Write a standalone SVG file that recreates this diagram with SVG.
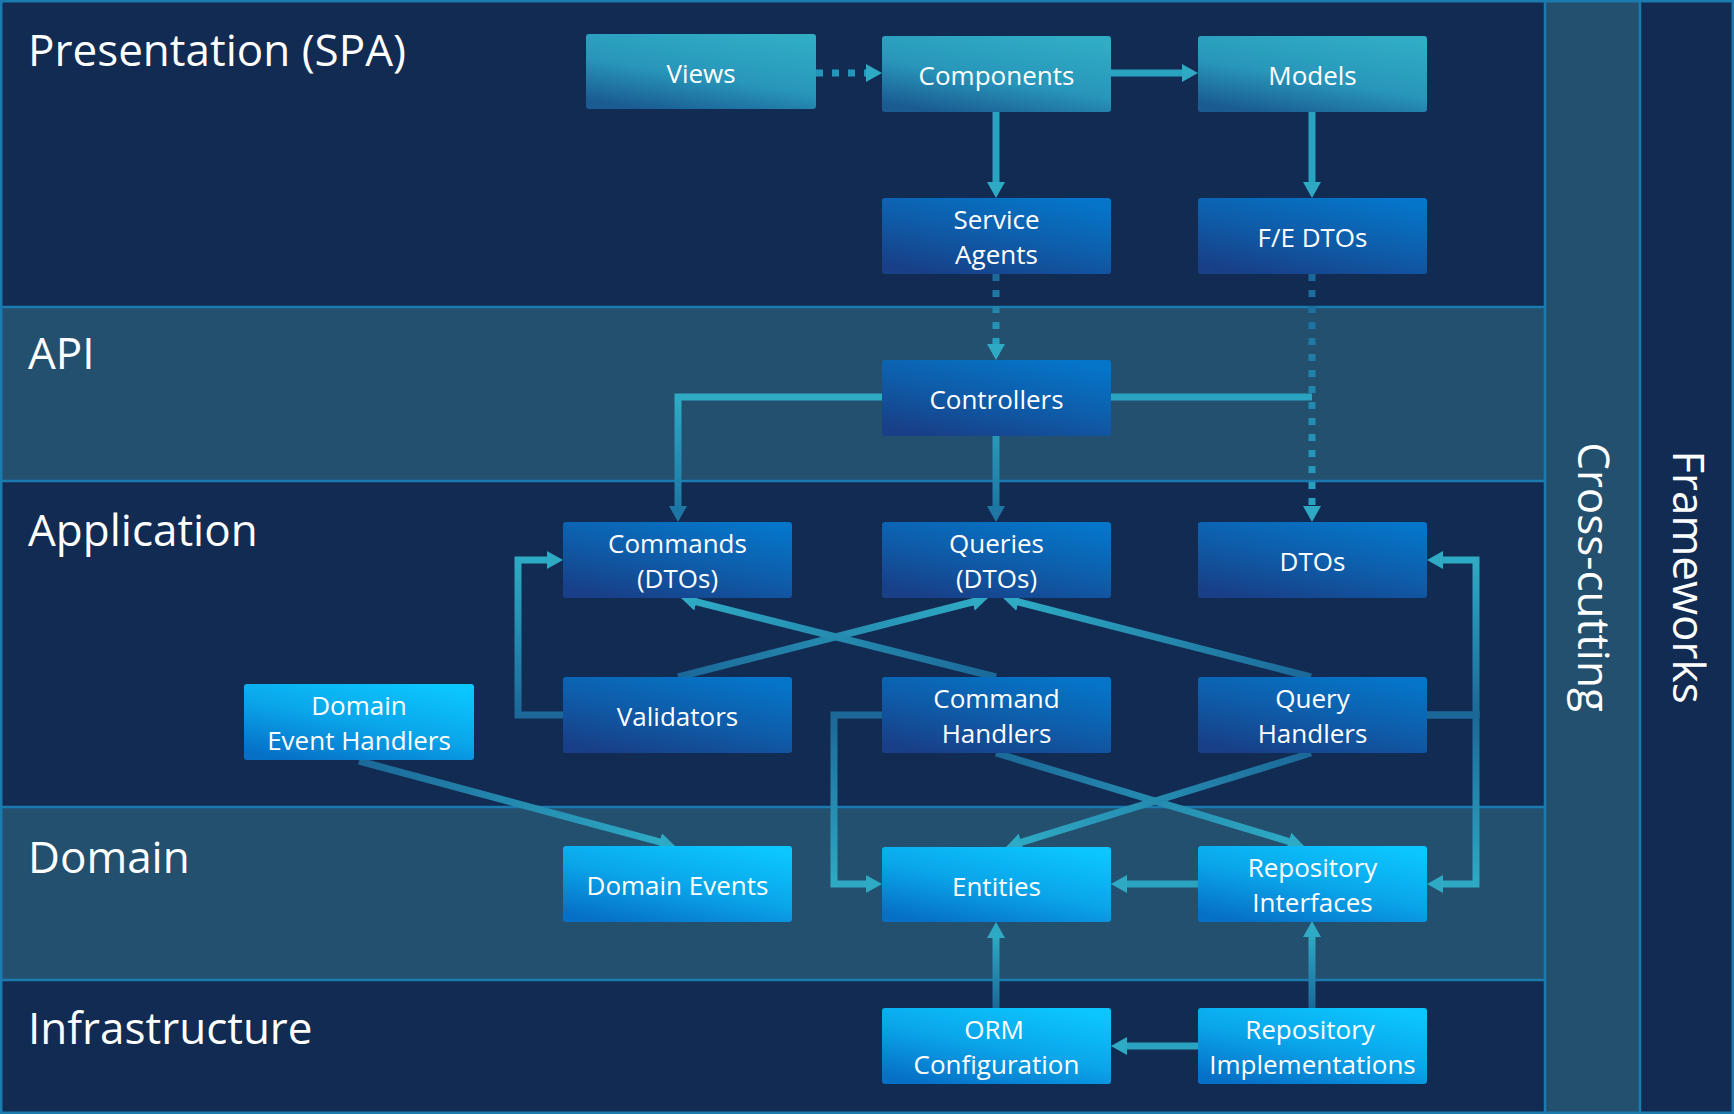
<svg xmlns="http://www.w3.org/2000/svg" width="1734" height="1114" viewBox="0 0 1734 1114">
<style>
.dark{fill:#122b52}
.light{fill:#24506f}
.sep{stroke:#1b7aae;stroke-width:2.5;fill:none}
.title{font-family:"Open Sans","Noto Sans",sans-serif;font-size:44px;fill:#ffffff}
.lbl{font-family:"Open Sans","Noto Sans",sans-serif;font-size:26px;fill:#ffffff;text-anchor:middle}
.teal{fill:url(#gTeal)}
.navy{fill:url(#gNavy)}
.sky{fill:url(#gSky)}
.conn{stroke:#2aa3c1;stroke-width:7;fill:none;marker-end:url(#arrow)}
.plain{stroke:#2aa3c1;stroke-width:7;fill:none}
.dot{stroke:#2396bb;stroke-width:7;fill:none;stroke-dasharray:7 9;marker-end:url(#arrow)}
.darkend{marker-end:url(#arrowDark)}
</style>
<defs>
<linearGradient id="gTeal" x1="0.25" y1="1" x2="0.75" y2="0">
<stop offset="0" stop-color="#1a5c92"/>
<stop offset="0.45" stop-color="#2896ba"/>
<stop offset="1" stop-color="#30acc5"/>
</linearGradient>
<linearGradient id="gNavy" x1="0.2" y1="1" x2="0.8" y2="0">
<stop offset="0" stop-color="#183f87"/>
<stop offset="0.5" stop-color="#0e5daa"/>
<stop offset="1" stop-color="#0575c9"/>
</linearGradient>
<linearGradient id="gSky" x1="0.2" y1="1" x2="0.8" y2="0">
<stop offset="0" stop-color="#0670c6"/>
<stop offset="0.5" stop-color="#0aa6ea"/>
<stop offset="1" stop-color="#0bc6ff"/>
</linearGradient>
<linearGradient id="lSA" gradientUnits="userSpaceOnUse" x1="996" y1="274" x2="996" y2="346"><stop offset="0" stop-color="#1b6898"/><stop offset="1" stop-color="#2aa3c1"/></linearGradient>
<linearGradient id="lFE" gradientUnits="userSpaceOnUse" x1="1312" y1="274" x2="1312" y2="508"><stop offset="0" stop-color="#1b6898"/><stop offset="1" stop-color="#2aa3c1"/></linearGradient>
<linearGradient id="lCC" gradientUnits="userSpaceOnUse" x1="0" y1="400" x2="0" y2="508"><stop offset="0" stop-color="#2eaac4"/><stop offset="1" stop-color="#1d76a3"/></linearGradient>
<linearGradient id="lVQ" gradientUnits="userSpaceOnUse" x1="678" y1="677" x2="974" y2="601"><stop offset="0" stop-color="#1b6898"/><stop offset="1" stop-color="#2eaac4"/></linearGradient>
<linearGradient id="lCHC" gradientUnits="userSpaceOnUse" x1="996" y1="677" x2="695" y2="601"><stop offset="0" stop-color="#1b6898"/><stop offset="1" stop-color="#2eaac4"/></linearGradient>
<linearGradient id="lQHQ" gradientUnits="userSpaceOnUse" x1="1311" y1="677" x2="1017" y2="601"><stop offset="0" stop-color="#1b6898"/><stop offset="1" stop-color="#2eaac4"/></linearGradient>
<linearGradient id="lUp" gradientUnits="userSpaceOnUse" x1="0" y1="715" x2="0" y2="560"><stop offset="0" stop-color="#1b6898"/><stop offset="1" stop-color="#2eaac4"/></linearGradient>
<linearGradient id="lDown" gradientUnits="userSpaceOnUse" x1="0" y1="715" x2="0" y2="884"><stop offset="0" stop-color="#1b6898"/><stop offset="1" stop-color="#2eaac4"/></linearGradient>
<linearGradient id="lCHR" gradientUnits="userSpaceOnUse" x1="996" y1="753" x2="1291" y2="842"><stop offset="0" stop-color="#1b6898"/><stop offset="1" stop-color="#2eaac4"/></linearGradient>
<linearGradient id="lQHE" gradientUnits="userSpaceOnUse" x1="1311" y1="753" x2="1019" y2="843"><stop offset="0" stop-color="#1b6898"/><stop offset="1" stop-color="#2eaac4"/></linearGradient>
<linearGradient id="lDEH" gradientUnits="userSpaceOnUse" x1="359" y1="761" x2="661" y2="842"><stop offset="0" stop-color="#1b6898"/><stop offset="1" stop-color="#2eaac4"/></linearGradient>
<linearGradient id="lInfra" gradientUnits="userSpaceOnUse" x1="0" y1="1008" x2="0" y2="936"><stop offset="0" stop-color="#1b6898"/><stop offset="1" stop-color="#2eaac4"/></linearGradient>
<marker id="arrow" markerUnits="userSpaceOnUse" viewBox="0 0 16 18" markerWidth="16" markerHeight="18" refX="2" refY="9" orient="auto">
<path d="M0,0 L16,9 L0,18 z" fill="#2eaac4"/>
</marker>
<marker id="arrowDark" markerUnits="userSpaceOnUse" viewBox="0 0 16 18" markerWidth="16" markerHeight="18" refX="2" refY="9" orient="auto">
<path d="M0,0 L16,9 L0,18 z" fill="#1d76a3"/>
</marker>
</defs>

<g id="background">
<rect x="0" y="0" width="1734" height="1114" class="dark"/>
<rect x="0" y="307" width="1545" height="174" class="light"/>
<rect x="0" y="807" width="1545" height="173" class="light"/>
<rect x="1545" y="0" width="95" height="1114" class="light"/>
<path class="sep" d="M0,307 H1545 M0,481 H1545 M0,807 H1545 M0,980 H1545 M1545,0 V1114 M1640,0 V1114"/>
<rect x="1.25" y="1.25" width="1731.5" height="1111.5" class="sep"/>
</g>

<g id="layer-titles">
<text class="title" x="28" y="66">Presentation (SPA)</text>
<text class="title" x="28" y="369">API</text>
<text class="title" x="28" y="546">Application</text>
<text class="title" x="28" y="873">Domain</text>
<text class="title" x="28" y="1044">Infrastructure</text>
<text class="title" transform="translate(1578,577) rotate(90)" text-anchor="middle">Cross-cutting</text>
<text class="title" transform="translate(1673,577) rotate(90)" text-anchor="middle">Frameworks</text>
</g>

<g id="connectors">
<path class="dot" d="M816,73 H868"/>
<path class="conn" d="M1111,73 H1184"/>
<path class="conn" d="M996,112 V184"/>
<path class="conn" d="M1312,112 V184"/>
<path class="dot" style="stroke:url(#lSA)" d="M996,274 V346"/>
<path class="conn darkend" style="stroke:url(#lCC)" d="M882,397 H678 V508"/>
<path class="conn darkend" style="stroke:url(#lCC)" d="M996,436 V508"/>
<path class="plain" d="M1111,397 H1312"/>
<path class="dot" style="stroke:url(#lFE)" d="M1312,274 V508"/>
<path class="conn" style="stroke:url(#lVQ)" d="M678,677 L974.4,601.5"/>
<path class="conn" style="stroke:url(#lCHC)" d="M996,677 L694.6,601.4"/>
<path class="conn" style="stroke:url(#lQHQ)" d="M1311,677 L1016.6,601.5"/>
<path class="conn" style="stroke:url(#lUp)" d="M563,715 H518 V560 H549"/>
<path class="conn" style="stroke:url(#lUp)" d="M1427,715 H1476 V560 H1441"/>
<path class="conn" style="stroke:url(#lDown)" d="M1427,715 H1476 V884 H1441"/>
<path class="conn" style="stroke:url(#lDown)" d="M882,715 H834 V884 H868"/>
<path class="conn" style="stroke:url(#lCHR)" d="M996,753 L1290.6,842"/>
<path class="conn" style="stroke:url(#lQHE)" d="M1311,753 L1019.4,842.9"/>
<path class="conn" style="stroke:url(#lDEH)" d="M359,761 L661.5,842.4"/>
<path class="conn" d="M1198,884 H1125"/>
<path class="conn" style="stroke:url(#lInfra)" d="M996,1008 V936"/>
<path class="conn" style="stroke:url(#lInfra)" d="M1312,1008 V935"/>
<path class="conn" d="M1198,1046 H1125"/>
</g>

<g id="node-views"><rect class="teal" x="586" y="34" width="230" height="75" rx="3"/><text class="lbl" x="701" y="83">Views</text></g>
<g id="node-components"><rect class="teal" x="882" y="36" width="229" height="76" rx="3"/><text class="lbl" x="996.5" y="85">Components</text></g>
<g id="node-models"><rect class="teal" x="1198" y="36" width="229" height="76" rx="3"/><text class="lbl" x="1312.5" y="85">Models</text></g>
<g id="node-service-agents"><rect class="navy" x="882" y="198" width="229" height="76" rx="3"/><text class="lbl" x="996.5" y="229">Service</text><text class="lbl" x="996.5" y="264">Agents</text></g>
<g id="node-fe-dtos"><rect class="navy" x="1198" y="198" width="229" height="76" rx="3"/><text class="lbl" x="1312.5" y="247">F/E DTOs</text></g>
<g id="node-controllers"><rect class="navy" x="882" y="360" width="229" height="76" rx="3"/><text class="lbl" x="996.5" y="409">Controllers</text></g>
<g id="node-commands"><rect class="navy" x="563" y="522" width="229" height="76" rx="3"/><text class="lbl" x="677.5" y="553">Commands</text><text class="lbl" x="677.5" y="588">(DTOs)</text></g>
<g id="node-queries"><rect class="navy" x="882" y="522" width="229" height="76" rx="3"/><text class="lbl" x="996.5" y="553">Queries</text><text class="lbl" x="996.5" y="588">(DTOs)</text></g>
<g id="node-dtos"><rect class="navy" x="1198" y="522" width="229" height="76" rx="3"/><text class="lbl" x="1312.5" y="571">DTOs</text></g>
<g id="node-validators"><rect class="navy" x="563" y="677" width="229" height="76" rx="3"/><text class="lbl" x="677.5" y="726">Validators</text></g>
<g id="node-command-handlers"><rect class="navy" x="882" y="677" width="229" height="76" rx="3"/><text class="lbl" x="996.5" y="708">Command</text><text class="lbl" x="996.5" y="743">Handlers</text></g>
<g id="node-query-handlers"><rect class="navy" x="1198" y="677" width="229" height="76" rx="3"/><text class="lbl" x="1312.5" y="708">Query</text><text class="lbl" x="1312.5" y="743">Handlers</text></g>
<g id="node-domain-event-handlers"><rect class="sky" x="244" y="684" width="230" height="76" rx="3"/><text class="lbl" x="359" y="715">Domain</text><text class="lbl" x="359" y="750">Event Handlers</text></g>
<g id="node-domain-events"><rect class="sky" x="563" y="846" width="229" height="76" rx="3"/><text class="lbl" x="677.5" y="895">Domain Events</text></g>
<g id="node-entities"><rect class="sky" x="882" y="847" width="229" height="75" rx="3"/><text class="lbl" x="996.5" y="896">Entities</text></g>
<g id="node-repository-interfaces"><rect class="sky" x="1198" y="846" width="229" height="76" rx="3"/><text class="lbl" x="1312.5" y="877">Repository</text><text class="lbl" x="1312.5" y="912">Interfaces</text></g>
<g id="node-orm-configuration"><rect class="sky" x="882" y="1008" width="229" height="76" rx="3"/><text class="lbl" x="994" y="1039">ORM</text><text class="lbl" x="996.5" y="1074">Configuration</text></g>
<g id="node-repository-implementations"><rect class="sky" x="1198" y="1008" width="229" height="76" rx="3"/><text class="lbl" x="1310" y="1039">Repository</text><text class="lbl" x="1312.5" y="1074">Implementations</text></g>
</svg>
